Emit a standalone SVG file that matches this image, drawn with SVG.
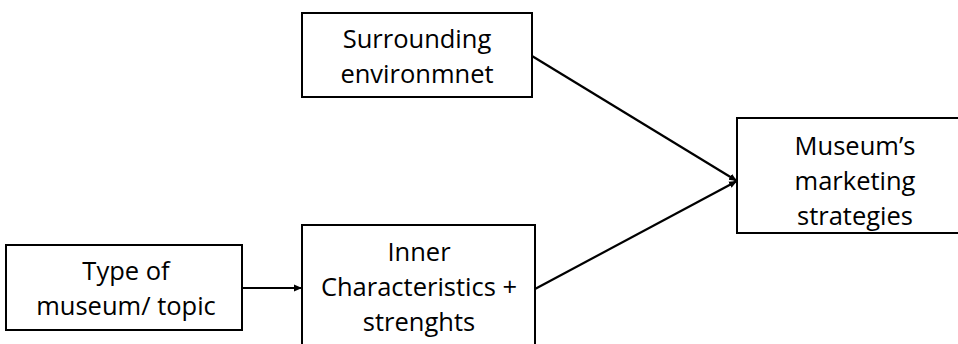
<svg xmlns="http://www.w3.org/2000/svg" width="958" height="344" viewBox="0 0 958 344">
<style>
.box{fill:#fff;stroke:#000;stroke-width:2}
.t{font-family:"Open Sans","Liberation Sans",sans-serif;font-size:25.5px;fill:#000;text-anchor:middle}
.c{stroke:#000;stroke-width:2.2;fill:none}
</style>
<defs>
<marker id="ah" markerUnits="userSpaceOnUse" markerWidth="10" markerHeight="10" refX="8" refY="4" orient="auto">
<path d="M0,0.5 L8,4 L0,7.5 Z" fill="#000"/>
</marker>
</defs>
<rect width="958" height="344" fill="#fff"/>
<g id="connectors">
<line class="c" x1="532" y1="56" x2="737" y2="181" marker-end="url(#ah)"/>
<line class="c" x1="535" y1="289" x2="737" y2="181" marker-end="url(#ah)"/>
<line class="c" x1="242" y1="288" x2="302" y2="288" marker-end="url(#ah)"/>
</g>
<g id="surrounding">
<rect class="box" x="302" y="13" width="230" height="84"/>
<text class="t" x="417" y="48">Surrounding</text>
<text class="t" x="417" y="83">environmnet</text>
</g>
<g id="type">
<rect class="box" x="6" y="245" width="236" height="85"/>
<text class="t" x="126" y="280">Type of</text>
<text class="t" x="126" y="315">museum/ topic</text>
</g>
<g id="inner">
<rect class="box" x="302" y="225" width="233" height="130"/>
<text class="t" x="419" y="261">Inner</text>
<text class="t" x="419" y="296">Characteristics +</text>
<text class="t" x="419" y="331">strenghts</text>
</g>
<g id="museum">
<rect class="box" x="737" y="118" width="240" height="115"/>
<text class="t" x="855" y="155">Museum’s</text>
<text class="t" x="855" y="190">marketing</text>
<text class="t" x="855" y="225">strategies</text>
</g>
</svg>
